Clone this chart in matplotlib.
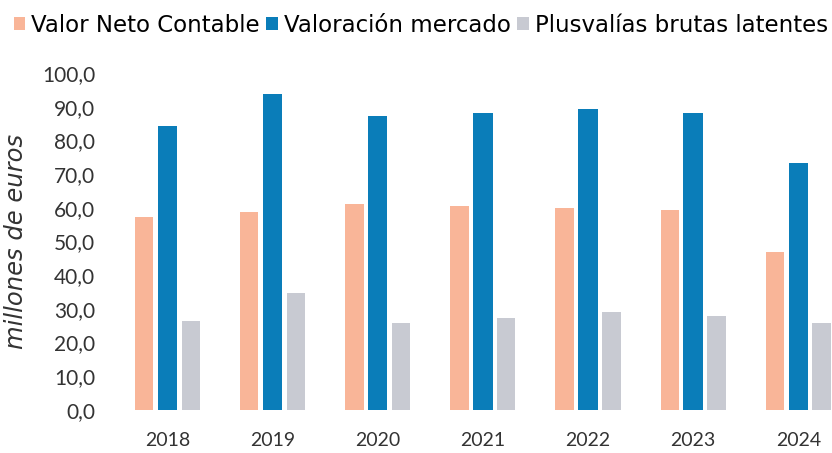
import matplotlib
matplotlib.use("Agg")
import matplotlib.pyplot as plt
import numpy as np
from matplotlib.patches import Patch

years = ["2018", "2019", "2020", "2021", "2022", "2023", "2024"]
valor_neto = [57.2, 58.7, 61.1, 60.5, 60.0, 59.3, 46.9]
valoracion = [84.3, 93.7, 87.3, 88.2, 89.4, 88.0, 73.4]
plusvalias = [26.4, 34.8, 25.7, 27.4, 29.0, 28.0, 25.9]
series_names = ["Valor Neto Contable", "Valoración mercado", "Plusvalías brutas latentes"]
colors = ["#F9B598", "#0A7DB9", "#C8CAD2"]

plt.rcParams['font.family'] = ['Lato', 'DejaVu Sans']

fig = plt.figure(figsize=(8.32, 4.53), dpi=100)
ax = fig.add_axes([0.138, 0.095, 0.862, 0.744])

x = np.arange(len(years))
w = 0.175
off = 0.222
ax.bar(x - off, valor_neto, width=w, color=colors[0])
ax.bar(x, valoracion, width=w + 0.01, color=colors[1])
ax.bar(x + off, plusvalias, width=w, color=colors[2])

ax.set_xlim(-0.5, 6.32)
ax.set_ylim(0, 100)
ax.set_yticks(np.arange(0, 101, 10))
ax.set_yticklabels([f"{v:.1f}".replace(".", ",") for v in np.arange(0, 101, 10)],
                   fontsize=15, color="#333333")
ax.set_xticks(x)
ax.set_xticklabels(years, fontsize=14, color="#333333")
ax.tick_params(axis='both', length=0)
ax.tick_params(axis='x', pad=16)
ax.tick_params(axis='y', pad=14)
for s in ax.spines.values():
    s.set_visible(False)

ax.set_ylabel("millones de euros", fontsize=17.5, style="italic", color="#333333",
              labelpad=10, family=['DejaVu Sans'])

handles = [Patch(facecolor=c, edgecolor='none') for c in colors]
fig.legend(handles, series_names, loc="upper left", bbox_to_anchor=(0.0, 1.0),
           ncol=3, frameon=False, handlelength=0.5, handleheight=0.5,
           handletextpad=0.25, columnspacing=0.3, borderaxespad=0.2,
           prop={'family': ['DejaVu Sans'], 'size': 16.5})

fig.savefig("out.png", dpi=100, facecolor="white")
